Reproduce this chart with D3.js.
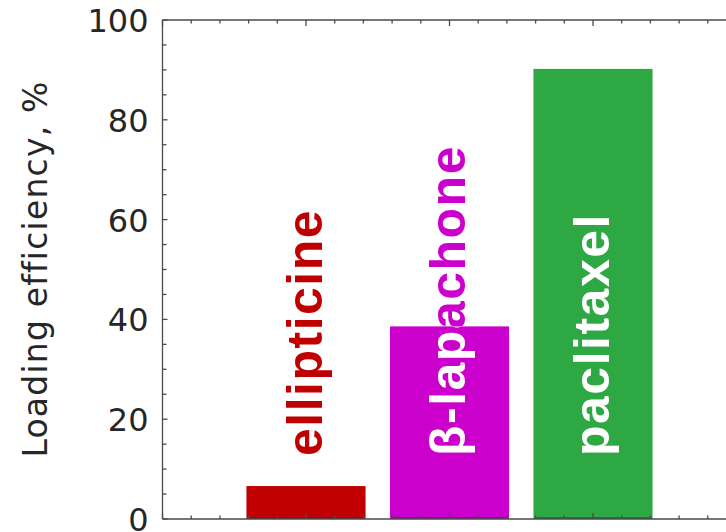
<!DOCTYPE html>
<html>
<head>
<meta charset="utf-8">
<script src="https://cdn.jsdelivr.net/npm/d3@7"></script>
<style>
  html, body { margin: 0; padding: 0; background: #fff; }
  svg { display: block; }
</style>
</head>
<body>
<svg id="chart" width="726" height="532"></svg>
<script>
// ---- data ----
const drugs = ["ellipticine", "β-lapachone", "paclitaxel"];
const positions = [1, 2, 3];
const efficiency = [6.6, 38.6, 90.2];
const barColors = ["#c00000", "#cc00cc", "#2ea843"];
const labelInside = ["#ffffff", "#ffffff", "#ffffff"];
const yTicks = [0, 20, 40, 60, 80, 100];
const yLabel = "Loading efficiency, %";

// ---- layout ----
const svg = d3.select("#chart");
const plotLeft = 162.5, plotTop = 20, plotBottom = 519, plotRight = 162.5 + 4 * 143.5;
const x = d3.scaleLinear().domain([0, 4]).range([plotLeft, plotRight]);
const y = d3.scaleLinear().domain([0, 100]).range([plotBottom, plotTop]);
const barW = 0.83;
const axisColor = "#4a4a4a";
const tickFont = "DejaVu Sans, sans-serif";

// bars
const g = svg.append("g");
g.selectAll("rect.bar").data(efficiency).join("rect")
  .attr("class", "bar")
  .attr("x", (d, i) => x(positions[i] - barW / 2))
  .attr("width", (d, i) => x(positions[i] + barW / 2) - x(positions[i] - barW / 2))
  .attr("y", d => y(d))
  .attr("height", d => y(0) - y(d))
  .attr("fill", (d, i) => barColors[i]);

// navy bar baseline edges
g.selectAll("line.base").data(efficiency).join("line")
  .attr("x1", (d, i) => x(positions[i] - barW / 2) + 2)
  .attr("x2", (d, i) => x(positions[i] + barW / 2) - 1)
  .attr("y1", y(0) - 1).attr("y2", y(0) - 1)
  .attr("stroke", "#2a2a6e").attr("stroke-width", 1.2);

// clip paths for bars
const defs = svg.append("defs");
efficiency.forEach((d, i) => {
  defs.append("clipPath").attr("id", "clip" + i)
    .append("rect")
    .attr("x", x(positions[i] - barW / 2))
    .attr("width", x(positions[i] + barW / 2) - x(positions[i] - barW / 2))
    .attr("y", y(d))
    .attr("height", y(0) - y(d));
});

// labels (outside color, then inside color clipped to bar)
const labelY = 456;
const labelFont = "'Liberation Sans', Arial, sans-serif";
function addLabels(colorFn, clip) {
  positions.forEach((p, i) => {
    const parent = clip ? svg.append("g").attr("clip-path", `url(#clip${i})`) : svg;
    parent.append("text")
      .attr("transform", `translate(${x(p) + 15.5},${labelY}) rotate(-90)`)
      .attr("font-family", labelFont)
      .attr("font-weight", "bold")
      .attr("font-size", 50)
      .attr("letter-spacing", 1.5)
      .attr("fill", colorFn(i))
      .text(drugs[i]);
  });
}
addLabels(i => barColors[i], false);
addLabels(i => labelInside[i], true);

// axes
const axG = svg.append("g").attr("stroke", axisColor).attr("fill", "none");
axG.append("line").attr("x1", x(0)).attr("x2", x(4)).attr("y1", y(100)).attr("y2", y(100)).attr("stroke-width", 1.3);
axG.append("line").attr("x1", x(0)).attr("x2", x(4)).attr("y1", y(0)).attr("y2", y(0)).attr("stroke-width", 1.3);
axG.append("line").attr("x1", x(0)).attr("x2", x(0)).attr("y1", y(0)).attr("y2", y(100)).attr("stroke-width", 1.3);
axG.append("line").attr("x1", x(4)).attr("x2", x(4)).attr("y1", y(0)).attr("y2", y(100)).attr("stroke-width", 1.3);

// x ticks (top & bottom, inward)
const xMinor = d3.range(0, 4.001, 0.2).map(v => +v.toFixed(1));
xMinor.forEach(v => {
  const major = Math.abs(v - Math.round(v)) < 1e-6;
  const len = major ? 6 : 3.5;
  axG.append("line").attr("x1", x(v)).attr("x2", x(v)).attr("y1", y(100)).attr("y2", y(100) + len).attr("stroke-width", 1.3);
  axG.append("line").attr("x1", x(v)).attr("x2", x(v)).attr("y1", y(0)).attr("y2", y(0) - len).attr("stroke-width", 1.3);
});
// y ticks (inward)
const yMinor = d3.range(0, 100.1, 5);
yMinor.forEach(v => {
  const major = v % 20 === 0;
  const len = major ? 5 : 4;
  axG.append("line").attr("x1", x(0)).attr("x2", x(0) + len).attr("y1", y(v)).attr("y2", y(v)).attr("stroke-width", 1.3);
});

// y tick labels
const yAxis = d3.axisLeft(y).tickValues(yTicks).tickSize(0).tickPadding(14);
const yAx = svg.append("g").attr("transform", `translate(${x(0)},0)`).call(yAxis);
yAx.select(".domain").remove();
yAx.selectAll("text")
  .attr("font-family", tickFont)
  .attr("font-size", 32)
  .attr("fill", "#262626")
  .attr("dy", "0.36em");

// y label
svg.append("text")
  .attr("transform", `translate(47,269) rotate(-90)`)
  .attr("text-anchor", "middle")
  .attr("font-family", tickFont)
  .attr("font-size", 33)
  .attr("letter-spacing", 1.2)
  .attr("fill", "#262626")
  .text(yLabel);
</script>
</body>
</html>
